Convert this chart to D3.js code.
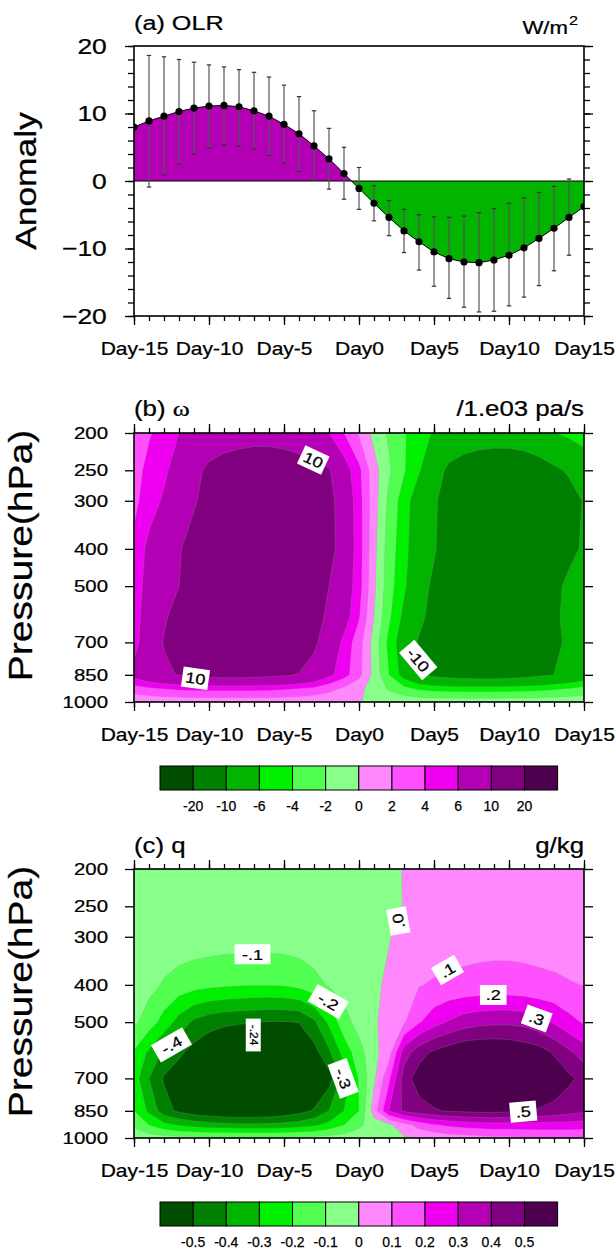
<!DOCTYPE html>
<html lang="en">
<head>
<meta charset="utf-8">
<title>OLR, omega and q composites</title>
<script src="https://cdn.jsdelivr.net/npm/d3@7"></script>
<style>
  body { margin: 0; background: #fff; }
  svg text { font-family: "Liberation Sans", Arial, Helvetica, sans-serif; fill: #000; stroke: #000; stroke-width: 0.25px; }
</style>
</head>
<body>
<div id="chart"></div>
<script>
// ---- data -------------------------------------------------------------
const days = [-15,-14,-13,-12,-11,-10,-9,-8,-7,-6,-5,-4,-3,-2,-1,0,1,2,3,4,5,6,7,8,9,10,11,12,13,14,15];
const dayTicks = [-15,-10,-5,0,5,10,15];
const dayLabels = ['Day-15','Day-10','Day-5','Day0','Day5','Day10','Day15'];

// (a) OLR anomaly, W/m2
const olrMean = [8.0,8.9,9.6,10.3,10.8,11.1,11.2,11.0,10.4,9.6,8.4,7.0,5.2,3.3,1.1,-1.1,-3.3,-5.4,-7.4,-9.0,-10.5,-11.5,-12.0,-12.1,-11.7,-11.0,-9.9,-8.5,-7.0,-5.4,-3.8];
const olrUpper = [null,18.6,18.4,18.0,17.6,17.2,16.9,16.5,16.1,15.4,14.2,12.5,10.4,7.8,5.0,2.0,-0.7,-2.9,-4.2,-5.0,-5.3,-5.4,-5.2,-4.7,-4.1,-3.3,-2.5,-1.7,-0.8,0.3,null];
const olrLower = [null,-0.9,0.9,2.5,4.0,4.9,5.4,5.2,4.7,3.8,2.7,1.4,0.1,-1.2,-2.7,-4.2,-5.9,-8.1,-10.6,-13.2,-15.6,-17.4,-18.7,-19.4,-19.3,-18.5,-17.2,-15.5,-13.3,-11.0,null];
const olrTicks = [-20,-10,0,10,20];

// pressure levels of the grids (rows), bottom to top
const levels = [1000,925,850,700,600,500,400,300,250,200];
const pressureTicks = [200,250,300,400,500,700,850,1000];

// (b) omega, 1.e-3 Pa/s, one row per level, one value per day
const omega = [
  [0.4,0.5,0.6,0.7,0.8,0.8,0.8,0.8,0.8,0.8,0.7,0.6,0.5,0.4,0.2,0.05,-0.2,-0.4,-0.6,-0.7,-0.8,-0.8,-0.8,-0.8,-0.8,-0.8,-0.8,-0.7,-0.7,-0.6,-0.5],
  [3.0,3.6,4.0,4.3,4.4,4.5,4.5,4.5,4.5,4.4,4.2,3.9,3.4,2.6,1.6,0.5,-0.8,-2.2,-3.4,-4.2,-4.6,-4.8,-4.9,-4.9,-4.9,-4.8,-4.7,-4.5,-4.2,-3.8,-3.3],
  [7.0,8.4,9.4,10.2,10.8,11.2,11.4,11.4,11.2,10.9,10.5,9.8,8.8,6.6,4.8,2.6,-0.6,-4.0,-7.0,-9.6,-10.8,-11.4,-11.8,-12.0,-12.0,-11.8,-11.3,-10.6,-10.0,-9.0,-8.0],
  [5.0,8.0,10.2,12.0,13.4,14.4,15.0,15.4,15.4,15.0,14.2,12.8,10.6,8.2,5.4,2.8,-0.8,-4.6,-7.6,-10.4,-12.4,-13.8,-14.6,-15.0,-15.0,-14.6,-13.8,-12.6,-11.0,-9.2,-8.4],
  [5.0,7.4,9.6,11.2,12.6,13.8,14.6,15.0,15.2,15.0,14.4,13.2,11.6,9.2,7.2,4.2,0.0,-3.6,-6.6,-9.0,-11.4,-13.0,-14.0,-14.6,-14.8,-14.6,-14.0,-12.8,-10.8,-8.8,-8.0],
  [5.0,6.8,8.6,10.0,11.8,13.2,14.2,14.8,15.0,15.0,14.6,13.8,12.4,10.0,7.6,4.8,0.4,-3.2,-5.6,-8.4,-10.8,-12.6,-13.8,-14.5,-14.8,-14.8,-14.4,-13.4,-11.2,-9.0,-8.2],
  [4.5,6.6,8.2,9.7,11.5,12.9,13.8,14.4,14.7,14.7,14.4,13.8,12.8,11.3,8.2,4.9,0.6,-3.0,-5.2,-7.9,-9.6,-12.4,-13.6,-14.3,-14.7,-14.8,-14.5,-13.9,-12.8,-11.2,-9.4],
  [3.5,5.0,6.3,7.8,9.6,11.5,12.8,13.6,14.0,14.0,13.8,13.2,12.4,11.2,8.0,4.8,0.9,-2.5,-5.0,-7.5,-9.4,-12.0,-13.2,-14.0,-14.4,-14.4,-14.1,-13.5,-12.5,-11.3,-9.8],
  [3.2,4.6,5.6,7.0,8.9,10.8,11.8,12.4,12.8,12.8,12.5,12.0,11.2,10.3,7.2,4.5,0.8,-1.7,-3.8,-5.8,-8.2,-10.8,-11.8,-12.4,-12.6,-12.6,-12.3,-11.6,-10.6,-9.6,-7.6],
  [3.0,3.8,4.8,6.0,6.8,7.4,7.9,8.2,8.4,8.4,8.1,7.5,6.8,6.0,4.0,1.8,-0.6,-2.3,-3.8,-5.2,-6.2,-7.0,-7.6,-8.0,-8.2,-8.2,-7.9,-7.2,-6.1,-5.4,-5.0]
];
const omegaLevels = [-20,-10,-6,-4,-2,0,2,4,6,10,20];

// (c) specific humidity, g/kg
const q = [
  [-0.03,-0.05,-0.06,-0.07,-0.07,-0.08,-0.08,-0.08,-0.08,-0.08,-0.08,-0.07,-0.07,-0.06,-0.05,-0.04,-0.03,-0.02,-0.01,0.01,0.03,0.05,0.06,0.07,0.08,0.08,0.09,0.1,0.1,0.1,0.1],
  [-0.12,-0.2,-0.27,-0.31,-0.34,-0.36,-0.37,-0.38,-0.38,-0.38,-0.37,-0.35,-0.32,-0.27,-0.2,-0.12,-0.05,-0.02,0.06,0.14,0.19,0.22,0.24,0.25,0.26,0.26,0.26,0.26,0.26,0.26,0.25],
  [-0.2,-0.32,-0.46,-0.52,-0.56,-0.58,-0.6,-0.6,-0.6,-0.59,-0.57,-0.54,-0.49,-0.4,-0.3,-0.2,0.05,0.3,0.42,0.46,0.49,0.51,0.52,0.53,0.53,0.52,0.51,0.49,0.47,0.44,0.42],
  [-0.25,-0.4,-0.51,-0.56,-0.62,-0.66,-0.68,-0.7,-0.7,-0.7,-0.68,-0.66,-0.62,-0.54,-0.36,-0.19,-0.02,0.18,0.45,0.55,0.6,0.64,0.66,0.67,0.67,0.66,0.64,0.61,0.57,0.52,0.47],
  [-0.21,-0.32,-0.42,-0.48,-0.54,-0.58,-0.61,-0.63,-0.64,-0.64,-0.63,-0.6,-0.54,-0.42,-0.26,-0.14,-0.03,0.06,0.35,0.46,0.52,0.56,0.59,0.6,0.6,0.59,0.57,0.55,0.49,0.42,0.35],
  [-0.08,-0.15,-0.24,-0.34,-0.42,-0.46,-0.48,-0.49,-0.497,-0.505,-0.505,-0.497,-0.42,-0.28,-0.14,-0.06,-0.01,0.03,0.09,0.19,0.26,0.31,0.35,0.37,0.38,0.38,0.37,0.33,0.29,0.23,0.19],
  [-0.04,-0.07,-0.11,-0.14,-0.16,-0.175,-0.185,-0.19,-0.195,-0.195,-0.19,-0.17,-0.13,-0.09,-0.06,-0.03,-0.01,0.01,0.06,0.095,0.11,0.12,0.125,0.13,0.13,0.13,0.125,0.12,0.115,0.105,0.098],
  [-0.03,-0.035,-0.04,-0.04,-0.045,-0.045,-0.05,-0.05,-0.05,-0.05,-0.048,-0.045,-0.04,-0.035,-0.03,-0.025,-0.015,-0.003,0.02,0.035,0.045,0.055,0.06,0.065,0.07,0.07,0.07,0.065,0.06,0.06,0.055],
  [-0.03,-0.03,-0.035,-0.035,-0.035,-0.035,-0.035,-0.035,-0.035,-0.035,-0.035,-0.03,-0.03,-0.03,-0.025,-0.02,-0.018,-0.015,0.002,0.015,0.025,0.03,0.035,0.04,0.04,0.04,0.04,0.04,0.04,0.04,0.04],
  [-0.03,-0.03,-0.03,-0.03,-0.03,-0.03,-0.03,-0.03,-0.03,-0.03,-0.03,-0.03,-0.025,-0.02,-0.02,-0.015,-0.012,-0.01,0.002,0.01,0.02,0.025,0.03,0.03,0.03,0.03,0.03,0.03,0.03,0.03,0.03]
];
const qLevels = [-0.5,-0.4,-0.3,-0.2,-0.1,0,0.1,0.2,0.3,0.4,0.5];
const qLevelLabels = ['-0.5','-0.4','-0.3','-0.2','-0.1','0','0.1','0.2','0.3','0.4','0.5'];

const colors = ['#004d00','#008000','#00b400','#00f000','#50ff50','#88ff88',
                '#ff88ff','#ff50ff','#f000f0','#b400b4','#800080','#4d004d'];

// contour labels: day, pressure, text, angle, font size
const omegaLabels = [
  {day: -3.05, p: 235, text: '10', angle: 25, size: 15},
  {day: -10.9, p: 868, text: '10', angle: 8, size: 15},
  {day: 3.95, p: 778, text: '-10', angle: 50, size: 15}
];
const qLabels = [
  {day: -7.1, p: 333, text: '-.1', angle: 0, size: 15},
  {day: -2.05, p: 442, text: '-.2', angle: 30, size: 15},
  {day: -12.5, p: 573, text: '-.4', angle: -30, size: 15},
  {day: -7.05, p: 540, text: '-.24', angle: 90, size: 10},
  {day: -1.05, p: 700, text: '-.3', angle: 70, size: 15},
  {day: 2.62, p: 273, text: '.0', angle: -100, size: 15},
  {day: 5.9, p: 366, text: '.1', angle: -30, size: 15},
  {day: 8.95, p: 425, text: '.2', angle: 0, size: 15},
  {day: 11.85, p: 489, text: '.3', angle: 20, size: 15},
  {day: 10.95, p: 854, text: '.5', angle: -5, size: 15}
];

// ---- drawing -----------------------------------------------------------
const STRETCH = 1.2;
const left = 134, right = 584;
const panels = {a: {top: 46, bottom: 316}, b: {top: 433, bottom: 702}, c: {top: 869, bottom: 1138}};

const svg = d3.select('#chart').append('svg')
    .attr('width', 615)
    .attr('height', 1251);

const x = d3.scaleLinear().domain([-15, 15]).range([left, right]);

function label(g, px, py, str, size, anchor, angle, stretch) {
    let tr = 'translate(' + px + ',' + py + ')';
    if (angle) tr += ' rotate(' + angle + ')';
    tr += ' scale(' + (stretch || STRETCH) + ',1)';
    return g.append('text')
        .attr('transform', tr)
        .attr('text-anchor', anchor || 'start')
        .style('font-size', size + 'px')
        .text(str);
}

function styleAxis(sel, size) {
    sel.attr('font-size', null).attr('font-family', null);
    sel.select('.domain').remove();
    sel.selectAll('.tick line').attr('stroke-width', 1.3);
    sel.selectAll('.tick text')
        .style('font-size', size + 'px')
        .attr('transform', 'scale(' + STRETCH + ',1)');
}

function dayAxes(top, bottom, withTop) {
    svg.append('g').attr('transform', 'translate(0,' + bottom + ')')
        .call(d3.axisBottom(x).tickValues(x.ticks(30)).tickSize(5).tickFormat(''))
        .call(styleAxis, 10);
    svg.append('g').attr('transform', 'translate(0,' + bottom + ')')
        .call(d3.axisBottom(x).tickValues(dayTicks).tickSize(9).tickPadding(18)
            .tickFormat((d, i) => dayLabels[i]))
        .call(styleAxis, 17.5);
    if (withTop) {
        svg.append('g').attr('transform', 'translate(0,' + top + ')')
            .call(d3.axisTop(x).tickValues(x.ticks(30)).tickSize(5).tickFormat(''))
            .call(styleAxis, 10);
        svg.append('g').attr('transform', 'translate(0,' + top + ')')
            .call(d3.axisTop(x).tickValues(dayTicks).tickSize(9).tickFormat(''))
            .call(styleAxis, 10);
    }
}

function frame(top, bottom) {
    svg.append('rect')
        .attr('x', left).attr('y', top)
        .attr('width', right - left).attr('height', bottom - top)
        .attr('fill', 'none')
        .attr('stroke', '#000')
        .attr('stroke-width', 1.6);
}

function clipRect(id, x0, y0, x1, y1) {
    svg.append('clipPath').attr('id', id)
        .append('rect').attr('x', x0).attr('y', y0)
        .attr('width', x1 - x0).attr('height', y1 - y0);
}

// ---- (a) OLR ---------------------------------------------------------------
(function () {
    const {top, bottom} = panels.a;
    const y = d3.scaleLinear().domain([-20, 20]).range([bottom, top]);
    const y0 = y(0);

    clipRect('clip-a', left, top, right, bottom);
    clipRect('clip-pos', left, top, right, y0);
    clipRect('clip-neg', left, y0, right, bottom);

    const area = d3.area()
        .x((d, i) => x(days[i]))
        .y0(y0)
        .y1(d => y(d));
    svg.append('path').datum(olrMean)
        .attr('clip-path', 'url(#clip-pos)')
        .attr('fill', '#b400b4')
        .attr('d', area);
    svg.append('path').datum(olrMean)
        .attr('clip-path', 'url(#clip-neg)')
        .attr('fill', '#00b400')
        .attr('d', area);

    svg.append('line')
        .attr('x1', left).attr('x2', right)
        .attr('y1', y0).attr('y2', y0)
        .attr('stroke', '#000').attr('stroke-width', 1);

    svg.append('path').datum(olrMean)
        .attr('fill', 'none')
        .attr('stroke', '#000')
        .attr('stroke-width', 1)
        .attr('d', d3.line().x((d, i) => x(days[i])).y(d => y(d)));

    const bars = svg.append('g');
    days.forEach((d, i) => {
        if (olrUpper[i] == null) return;
        const cx = x(d);
        bars.append('line')
            .attr('x1', cx).attr('x2', cx)
            .attr('y1', y(olrUpper[i])).attr('y2', y(olrLower[i]))
            .attr('stroke', '#555').attr('stroke-width', 1.2);
        [olrUpper[i], olrLower[i]].forEach(v => {
            bars.append('line')
                .attr('x1', cx - 2.2).attr('x2', cx + 2.2)
                .attr('y1', y(v)).attr('y2', y(v))
                .attr('stroke', '#333').attr('stroke-width', 1.2);
        });
    });

    svg.append('g').attr('clip-path', 'url(#clip-a)')
        .selectAll('circle')
        .data(olrMean)
        .enter().append('circle')
        .attr('cx', (d, i) => x(days[i]))
        .attr('cy', d => y(d))
        .attr('r', 3.6)
        .attr('fill', '#000');

    // y axes
    svg.append('g').attr('transform', 'translate(' + left + ',0)')
        .call(d3.axisLeft(y).tickValues(y.ticks(20)).tickSize(6).tickFormat(''))
        .call(styleAxis, 10);
    svg.append('g').attr('transform', 'translate(' + left + ',0)')
        .call(d3.axisLeft(y).tickValues(olrTicks).tickSize(9).tickPadding(13.7))
        .call(styleAxis, 22);
    svg.append('g').attr('transform', 'translate(' + right + ',0)')
        .call(d3.axisRight(y).tickValues(y.ticks(20)).tickSize(6).tickFormat(''))
        .call(styleAxis, 10);
    svg.append('g').attr('transform', 'translate(' + right + ',0)')
        .call(d3.axisRight(y).tickValues(olrTicks).tickSize(9).tickFormat(''))
        .call(styleAxis, 10);

    dayAxes(top, bottom, false);
    frame(top, bottom);

    label(svg, left, 30, '(a) OLR', 21);
    label(svg, right - 16, 34, 'W/m', 18.5, 'end');
    label(svg, right - 15, 25, '2', 13.5);
    label(svg, 36, (top + bottom) / 2, 'Anomaly', 29.5, 'middle', -90);
})();

// ---- contour panels ------------------------------------------------------
function contourPanel(id, grid, thresholds, box, labels) {
    const {top, bottom} = box;
    const nx = days.length, ny = levels.length;
    const values = [].concat(...grid);
    const yp = d3.scaleLog().domain([1000, 200]).range([bottom, top]);

    // grid coordinates from d3.contours -> screen
    const gx = c => x(days[0] + Math.max(0, Math.min(nx - 1, c - 0.5)));
    const gy = c => {
        const t = Math.max(0, Math.min(ny - 1, c - 0.5));
        const j = Math.min(Math.floor(t), ny - 2), f = t - j;
        return yp(levels[j]) + f * (yp(levels[j + 1]) - yp(levels[j]));
    };
    const path = d3.geoPath(d3.geoTransform({
        point: function (px, py) { this.stream.point(gx(px), gy(py)); }
    }));

    clipRect('clip-' + id, left, top, right, bottom);
    const g = svg.append('g').attr('clip-path', 'url(#clip-' + id + ')');
    g.append('rect')
        .attr('x', left).attr('y', top)
        .attr('width', right - left).attr('height', bottom - top)
        .attr('fill', colors[0]);

    const bands = d3.contours().size([nx, ny]).thresholds(thresholds)(values);
    g.selectAll('path.band')
        .data(bands)
        .enter().append('path')
        .attr('class', 'band')
        .attr('d', path)
        .attr('fill', (d, i) => colors[i + 1])
        .attr('stroke', 'rgba(150,150,150,0.5)')
        .attr('stroke-width', 0.5);

    // contour labels
    labels.forEach(l => {
        const lg = svg.append('g')
            .attr('transform', 'translate(' + x(l.day) + ',' + yp(l.p) + ') rotate(' + l.angle + ')');
        const w = l.text.length * l.size * 0.62 + 8;
        const h = l.size + 5;
        lg.append('rect')
            .attr('x', -w / 2).attr('y', -h / 2)
            .attr('width', w).attr('height', h)
            .attr('fill', '#fff');
        lg.append('text')
            .attr('transform', 'scale(' + STRETCH + ',1)')
            .attr('text-anchor', 'middle')
            .attr('dy', '0.36em')
            .style('font-size', l.size + 'px')
            .text(l.text);
    });

    svg.append('g').attr('transform', 'translate(' + left + ',0)')
        .call(d3.axisLeft(yp).tickValues(pressureTicks).tickSize(9).tickPadding(12.7)
            .tickFormat(d3.format('d')))
        .call(styleAxis, 17);
    svg.append('g').attr('transform', 'translate(' + right + ',0)')
        .call(d3.axisRight(yp).tickValues(pressureTicks).tickSize(9).tickFormat(''))
        .call(styleAxis, 10);

    dayAxes(top, bottom, true);
    frame(top, bottom);
    label(svg, 32, (top + bottom) / 2 - 12, 'Pressure(hPa)', 32.5, 'middle', -90);
    return yp;
}

function colorbar(top, tickLabels) {
    const cb = d3.scaleLinear().domain([0, colors.length]).range([160, 557.6]);
    const g = svg.append('g');
    g.selectAll('rect')
        .data(colors)
        .enter().append('rect')
        .attr('x', (d, i) => cb(i))
        .attr('y', top)
        .attr('width', cb(1) - cb(0))
        .attr('height', 24)
        .attr('fill', d => d)
        .attr('stroke', '#000')
        .attr('stroke-width', 1);
    tickLabels.forEach((t, i) => {
        label(g, cb(i + 1), top + 45, t, 14, 'middle', 0, 1);
    });
}

contourPanel('b', omega, omegaLevels, panels.b, omegaLabels);
const tb = label(svg, left, 416, '(b) ', 21.5);
tb.append('tspan').style('font-family', '"Liberation Serif", "Times New Roman", serif').text('\u03c9');
label(svg, right, 416, '/1.e03 pa/s', 21.5, 'end');
colorbar(766, omegaLevels.map(String));

contourPanel('c', q, qLevels, panels.c, qLabels);
label(svg, left, 853, '(c) q', 21.5);
label(svg, right, 853, 'g/kg', 21.5, 'end');
colorbar(1202, qLevelLabels);
</script>
</body>
</html>
